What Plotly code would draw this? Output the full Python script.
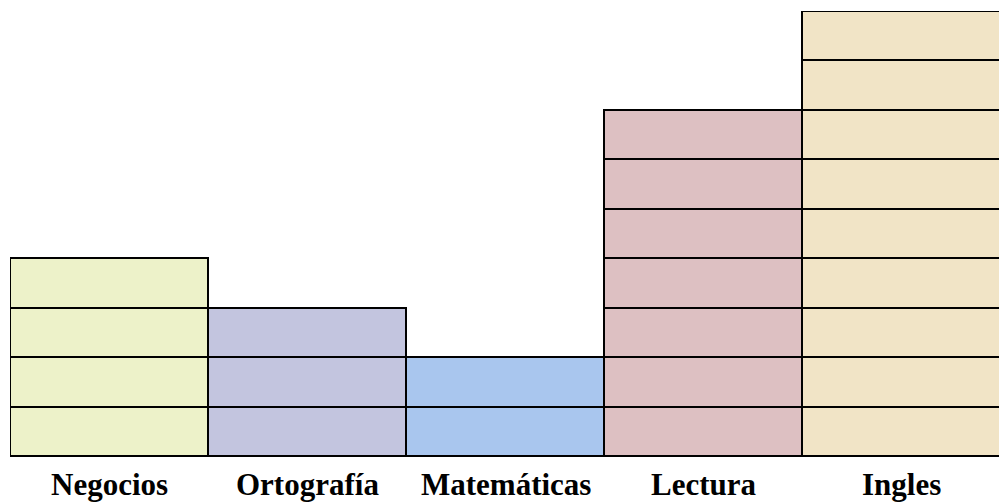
import plotly.graph_objects as go

categories = ["Negocios", "Ortografía", "Matemáticas", "Lectura", "Ingles"]
counts = [4, 3, 2, 7, 9]
colors = ["#EDF2C9", "#C3C5DF", "#A9C6EE", "#DDC0C2", "#F1E4C6"]

fig = go.Figure()
max_n = max(counts)
for level in range(max_n):
    xs = [c for c, n in zip(categories, counts) if n > level]
    cs = [col for col, n in zip(colors, counts) if n > level]
    fig.add_trace(go.Bar(
        x=xs, y=[1] * len(xs),
        marker=dict(color=cs, line=dict(color="black", width=1.6)),
        width=1, showlegend=False, hoverinfo="skip",
    ))

for c in categories:
    fig.add_annotation(
        x=c, y=0, xref="x", yref="y", text="<b>%s</b>" % c, showarrow=False,
        yanchor="top", yshift=-8,
        font=dict(family="Liberation Serif", size=31, color="black"),
    )

fig.update_layout(
    width=999, height=502,
    margin=dict(l=10, r=0, t=11, b=44),
    barmode="stack", bargap=0,
    paper_bgcolor="white", plot_bgcolor="white",
    xaxis=dict(range=[-0.503, 4.49], showticklabels=False, showgrid=False,
               zeroline=False, showline=False),
    yaxis=dict(range=[-0.012, 9.02], showticklabels=False, showgrid=False,
               zeroline=False, showline=False),
)
fig.write_html(
    "out.html",
    config={"displayModeBar": False},
    post_script="document.body.style.margin='0';document.body.style.overflow='hidden';",
)
